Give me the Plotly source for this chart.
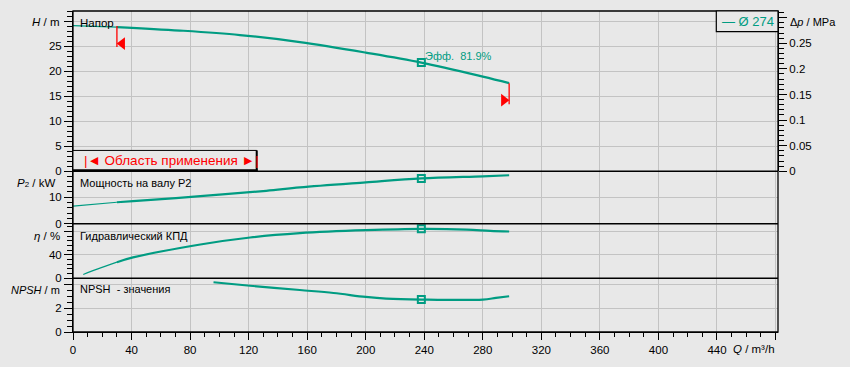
import plotly.graph_objects as go

# ---------------- data ----------------
Q_H = [0, 30, 73, 114, 155, 200, 238, 280, 298]
H_m = [29.1, 28.8, 28.1, 27.2, 25.8, 23.7, 21.7, 18.9, 17.6]

Q_P = [0, 30, 41, 87, 132, 155, 200, 238, 280, 298]
P2_kW = [6.6, 8.1, 8.5, 10.4, 12.4, 13.7, 15.6, 17.1, 17.9, 18.3]

Q_eta = [7, 17, 30, 41, 87, 121, 155, 200, 238, 269, 285, 298]
eta_pct = [6.5, 16.0, 27.5, 35.6, 57.6, 69.5, 76.8, 81.9, 84.2, 83.0, 80.8, 79.7]

Q_NPSH = [96, 121, 155, 178, 200, 214, 238, 280, 289, 298]
NPSH_m = [4.17, 3.88, 3.52, 3.27, 2.94, 2.8, 2.72, 2.72, 2.86, 3.0]

op_Q = 238              # operating point
op_eff = 81.9
range_Q = [30, 298]     # application range limits
range_line_H = [[29.0, 24.8], [17.6, 13.4]]
range_tri_H = [25.5, 14.2]
MPa_per_m = 0.00978

x_ticks = [0, 40, 80, 120, 160, 200, 240, 280, 320, 360, 400, 440, 480]
x_labels = ["0", "40", "80", "120", "160", "200", "240", "280", "320", "360", "400", "440", ""]
H_ticks = [0, 5, 10, 15, 20, 25, 30]
H_labels = ["0", "5", "10", "15", "20", "25", ""]
dp_ticks = [0, 0.05, 0.1, 0.15, 0.2, 0.25, 0.3]
dp_labels = ["0", "0.05", "0.1", "0.15", "0.2", "0.25", ""]
P_ticks, P_labels = [0, 10, 20], ["0", "10", ""]
eta_ticks, eta_labels = [0, 40, 80], ["0", "40", ""]
N_ticks, N_labels = [0, 2, 4], ["0", "2", ""]

# ---------------- style ----------------
TEAL = "#009C82"
BG = "#E8E8E8"
GRID = "#C3C3C3"
FONT = "Liberation Sans, Arial, sans-serif"
W, HGT = 850, 367
ML, MR, MT, MB = 73, 72, 11, 33
PW, PH = W - ML - MR, HGT - MT - MB


def px(xp):
    return (xp - ML) / PW


def py(yp):
    return (MT + PH - yp) / PH


d_top = [py(172.3), 1]
d_P = [py(225), py(172.3)]
d_eta = [py(280), py(225)]
d_N = [0, py(280)]

fig = go.Figure()


def add_curve(q, v, xa, ya, split=True):
    lim = range_Q[0]
    if split and q[0] < lim:
        lq = [a for a in q if a <= lim]
        lv = [b for a, b in zip(q, v) if a <= lim]
        fig.add_trace(go.Scatter(x=lq, y=lv, xaxis=xa, yaxis=ya, mode="lines",
                                 line=dict(color=TEAL, width=1.2, shape="spline"),
                                 showlegend=False, hoverinfo="skip"))
        hq = [a for a in q if a >= lim]
        hv = [b for a, b in zip(q, v) if a >= lim]
    else:
        hq, hv = q, v
    fig.add_trace(go.Scatter(x=hq, y=hv, xaxis=xa, yaxis=ya, mode="lines",
                             line=dict(color=TEAL, width=2.2, shape="spline"),
                             showlegend=False, hoverinfo="skip"))
    vop = v[q.index(op_Q)]
    fig.add_trace(go.Scatter(x=[op_Q], y=[vop], xaxis=xa, yaxis=ya, mode="markers",
                             marker=dict(symbol="square-open", size=7, color=TEAL,
                                         line=dict(width=2, color=TEAL)),
                             showlegend=False, hoverinfo="skip"))


add_curve(Q_H, H_m, "x4", "y")
add_curve(Q_P, P2_kW, "x3", "y2")
add_curve(Q_eta, eta_pct, "x2", "y3")
add_curve(Q_NPSH, NPSH_m, "x", "y4", split=False)

# invisible trace so that the Δp axis is drawn
fig.add_trace(go.Scatter(x=Q_H, y=[h * MPa_per_m for h in H_m], xaxis="x4", yaxis="y5",
                         mode="lines", line=dict(width=0, color="rgba(0,0,0,0)"),
                         showlegend=False, hoverinfo="skip"))

# application range markers
for i, q in enumerate(range_Q):
    fig.add_trace(go.Scatter(x=[q, q], y=range_line_H[i], xaxis="x4", yaxis="y", mode="lines",
                             line=dict(color="#FF0000", width=1.3),
                             showlegend=False, hoverinfo="skip"))
fig.add_trace(go.Scatter(x=[range_Q[0] + 3.6], y=[range_tri_H[0]], xaxis="x4", yaxis="y",
                         mode="markers",
                         marker=dict(symbol="triangle-left", size=11, color="#FF0000"),
                         showlegend=False, hoverinfo="skip"))
fig.add_trace(go.Scatter(x=[range_Q[1] - 3.6], y=[range_tri_H[1]], xaxis="x4", yaxis="y",
                         mode="markers",
                         marker=dict(symbol="triangle-right", size=11, color="#FF0000"),
                         showlegend=False, hoverinfo="skip"))

tickfont = dict(family=FONT, size=11.5, color="#000000")
xr = [0, PW / 1.4636]

common_y = dict(ticks="outside", ticklen=8, tickcolor="black", showline=True,
                linecolor="black", linewidth=1, zeroline=False,
                tickfont=tickfont, tickmode="array", fixedrange=True)


def minor(dt):
    return dict(tickmode="linear", tick0=0, dtick=dt, ticks="outside", ticklen=5,
                tickcolor="black", showgrid=False)


layout = dict(
    width=W, height=HGT,
    margin=dict(l=ML, r=MR, t=MT, b=MB),
    paper_bgcolor=BG, plot_bgcolor=BG,
    font=dict(family=FONT, size=11, color="black"),
    showlegend=False,
    xaxis=dict(domain=[0, 1], anchor="y4", range=xr, tickmode="array", tickvals=x_ticks,
               ticktext=x_labels, ticks="outside", ticklen=7, tickcolor="black",
               minor=dict(tickmode="linear", tick0=0, dtick=10, ticks="outside",
                          ticklen=4, tickcolor="black", showgrid=False),
               showgrid=True, gridcolor=GRID, showline=True, linecolor="black",
               zeroline=False, tickfont=tickfont, fixedrange=True),
    xaxis2=dict(domain=[0, 1], anchor="y3", matches="x", range=xr, tickmode="array",
                tickvals=x_ticks, showticklabels=False, ticks="", showgrid=True,
                gridcolor=GRID, zeroline=False),
    xaxis3=dict(domain=[0, 1], anchor="y2", matches="x", range=xr, tickmode="array",
                tickvals=x_ticks, showticklabels=False, ticks="", showgrid=True,
                gridcolor=GRID, zeroline=False),
    xaxis4=dict(domain=[0, 1], anchor="y", matches="x", range=xr, tickmode="array",
                tickvals=x_ticks, showticklabels=False, ticks="", showgrid=True,
                gridcolor=GRID, zeroline=False),
    yaxis=dict(domain=d_top, anchor="x4", range=[0, 32], tickvals=H_ticks,
               ticktext=H_labels, minor=minor(1), gridcolor=GRID, **common_y),
    yaxis5=dict(overlaying="y", side="right", anchor="x4", range=[0, 32 * MPa_per_m],
                tickvals=dp_ticks, ticktext=dp_labels, minor=minor(0.01),
                showgrid=False, **common_y),
    yaxis2=dict(domain=d_P, anchor="x3", range=[0, 19.8], tickvals=P_ticks,
                ticktext=P_labels, minor=minor(2), gridcolor=GRID, **common_y),
    yaxis3=dict(domain=d_eta, anchor="x2", range=[0, 93], tickvals=eta_ticks,
                ticktext=eta_labels, minor=minor(8), gridcolor=GRID, **common_y),
    yaxis4=dict(domain=d_N, anchor="x", range=[0, 4.5], tickvals=N_ticks,
                ticktext=N_labels, minor=minor(0.5), gridcolor=GRID, **common_y),
)
fig.update_layout(**layout)

shapes = [
    dict(type="rect", xref="paper", yref="paper", x0=0, x1=1, y0=0, y1=1,
         line=dict(color="black", width=1.3), layer="above"),
]
for yb in [d_top[0], d_P[0], d_eta[0]]:
    shapes.append(dict(type="line", xref="paper", yref="paper", x0=0, x1=1, y0=yb, y1=yb,
                       line=dict(color="black", width=1.5), layer="above"))
# application range box
shapes.append(dict(type="rect", xref="paper", yref="paper", x0=0, x1=px(256.7),
                   y0=py(171.7), y1=py(151.3), fillcolor=BG,
                   line=dict(color="black", width=1), layer="above"))
shapes.append(dict(type="line", xref="paper", yref="paper", x0=px(256.7), x1=px(256.7),
                   y0=py(172), y1=py(151.3), line=dict(color="black", width=2), layer="above"))
shapes.append(dict(type="line", xref="paper", yref="paper", x0=0, x1=px(257.5),
                   y0=py(171.2), y1=py(171.2), line=dict(color="black", width=2), layer="above"))
# legend box
shapes.append(dict(type="rect", xref="paper", yref="paper", x0=px(716.3), x1=1,
                   y0=py(31.7), y1=1, fillcolor=BG,
                   line=dict(color="black", width=1.2), layer="above"))
fig.update_layout(shapes=shapes)

ann = []


def A(text, xp, yp, anchor="left", size=11, color="black"):
    ann.append(dict(text=text, xref="paper", yref="paper", x=px(xp), y=py(yp),
                    xanchor=anchor, yanchor="middle", showarrow=False,
                    font=dict(family=FONT, size=size, color=color)))


A("<i>H</i> / m", 61, 22.5, "right", 11.5)
A("<i>P</i><span style='font-size:8px'>2</span> / kW", 57, 184.5, "right", 11.5)
A("<i>η</i> / %", 62, 237.7, "right", 11.5)
A("<i>NPSH</i> / m", 62, 291.5, "right", 11)
A("Δ<i>p</i> / MPa", 788, 22.5, "left", 11)
A("<i>Q</i> / m³/h", 777, 351, "right", 11.5)
A("Напор", 78, 23.5, "left", 11.5)
A("Мощность на валу P2", 78, 184.5, "left", 11)
A("Гидравлический КПД", 78, 237.7, "left", 11)
A("NPSH  - значения", 78, 291, "left", 11)
A("— Ø 274", 747.5, 21.5, "center", 13, TEAL)
A("|◄ Область применения ►|", 170.5, 161.5, "center", 13.5, "#FF0000")
ann.append(dict(text=f"Эфф.  {op_eff}%", xref="x4", yref="y", x=op_Q + 0.8, y=23.0,
                xanchor="left", yanchor="middle", showarrow=False,
                font=dict(family=FONT, size=11, color=TEAL)))
fig.update_layout(annotations=ann)

fig.write_html("out.html")
